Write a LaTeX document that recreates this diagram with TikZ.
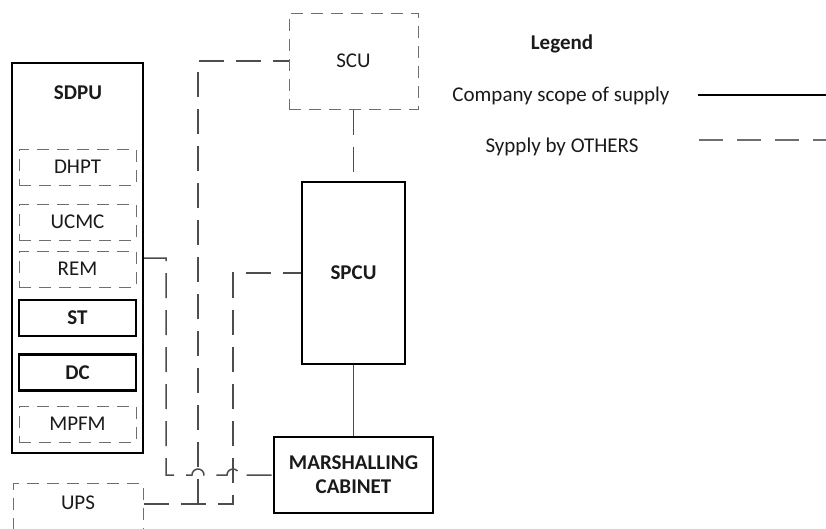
\documentclass[tikz,border=0pt]{standalone}
\usepackage{fontspec}
\setmainfont{Carlito}
\usetikzlibrary{calc}
\definecolor{linegray}{HTML}{4D4D4D}
\definecolor{dashgray}{HTML}{6E6E6E}
\definecolor{inkblack}{HTML}{1A1A1A}

\begin{document}
\begin{tikzpicture}[
    x=1pt, y=-1pt,
    font=\fontsize{21}{24}\selectfont, text=inkblack,
    mainbox/.style={draw=black, line width=2.2pt, inner sep=0pt, align=center, font=\fontsize{21}{24}\selectfont\bfseries},
    otherbox/.style={draw=dashgray, line width=1pt, dash pattern=on 12pt off 8pt, inner sep=0pt},
    module/.style={minimum width=117pt, minimum height=36pt},
    ownline/.style={draw=linegray, line width=1.3pt},
    otherline/.style={draw=linegray, line width=1.5pt, dash pattern=on 25pt off 12pt},
    title/.style={font=\fontsize{21}{24}\selectfont\bfseries}
]
\useasboundingbox (0,0) rectangle (826,528);
\clip (0,0) rectangle (826,528);

\node[mainbox, minimum width=131pt, minimum height=390pt] (sdpu) at (77.5,258) {};
\node[title] (sdputitle) at (78,93) {SDPU};
\node[otherbox, module] (dhpt) at (77.5,167) {DHPT};
\node[otherbox, module] (ucmc) at (77.5,222) {UCMC};
\node[otherbox, module] (rem) at (77.5,269) {REM};
\node[mainbox, module] (st) at (77.5,318) {ST};
\node[mainbox, module] (dc) at (77.5,372.5) {DC};
\node[otherbox, module] (mpfm) at (77.5,424) {MPFM};
\node[otherbox, minimum width=130pt, text height=26pt, text depth=40pt, anchor=north] (ups) at (78,483) {UPS};

\node[otherbox, minimum width=129pt, minimum height=96pt] (scu) at (353.5,61) {SCU};
\node[mainbox, minimum width=103pt, minimum height=182pt] (spcu) at (353.5,273) {SPCU};
\node[mainbox, minimum width=159pt, minimum height=76pt] (mc) at (353.5,475) {MARSHALLING\\CABINET};

\node[title] (legend) at (562,44) {Legend};
\node (ownkey) at (561,96) {Company scope of supply};
\node (otherkey) at (562,147) {Sypply by OTHERS};
\coordinate (ownA) at (698,95);
\coordinate (ownB) at (830,95);
\coordinate (otherA) at (699,140);
\coordinate (otherB) at (830,140);
\draw[line width=2.5pt, black] (ownA) -- (ownB);
\draw[line width=1.2pt, dashgray, dash pattern=on 24pt off 14pt] (otherA) -- (otherB);

\coordinate (bend) at (166,475);
\coordinate (hop1) at (198,475);
\coordinate (hop2) at (233,475);
\coordinate (upsA) at (198,504);
\coordinate (upsB) at (233,504);

\draw[otherline] (scu) -- (spcu);
\draw[ownline] (spcu) -- (mc);
\draw[otherline] (sdpu.east) -| (bend) -- ([xshift=-6pt]hop1) arc[start angle=180, end angle=0, radius=6pt] -- ([xshift=-6pt]hop2) arc[start angle=180, end angle=0, radius=6pt] -- (mc.west);
\draw[otherline] (ups.east |- upsB) -- (upsB) |- (spcu.west);
\draw[otherline] (upsA) |- (scu.west);
\end{tikzpicture}
\end{document}
